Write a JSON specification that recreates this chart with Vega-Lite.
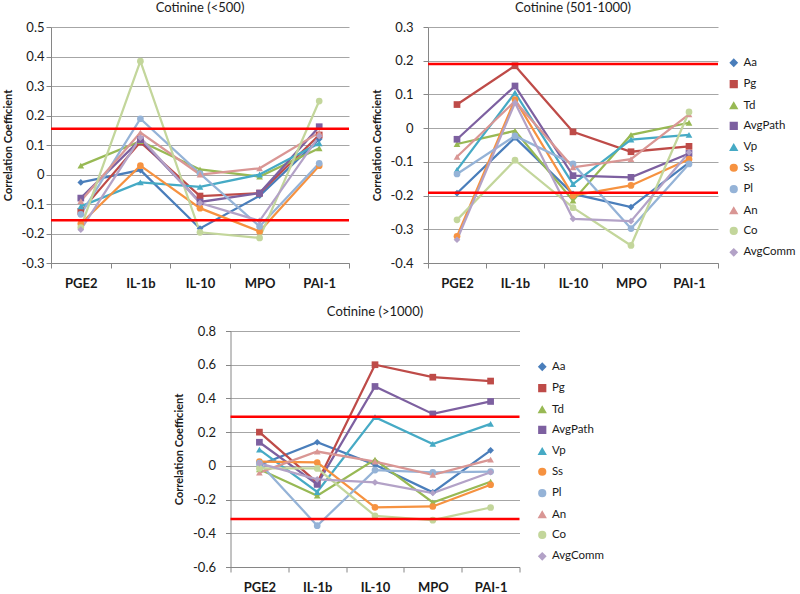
{
  "$schema": "https://vega.github.io/schema/vega-lite/v6.json",
  "padding": {"left": 2, "top": 2, "right": 0, "bottom": 0},
  "background": "white",
  "config": {
    "font": "Lato",
    "view": {"stroke": null},
    "axis": {"labelFont": "Lato", "titleFont": "Lato", "domainColor": "#868686", "tickColor": "#868686", "gridColor": "#A6A6A6", "labelColor": "#1a1a1a", "titleColor": "#1a1a1a"},
    "axisX": {"labelFontSize": 13, "labelFontWeight": "bold", "labelAngle": 0, "tickSize": 5, "labelPadding": 9, "grid": false, "tickBand": "extent"},
    "axisY": {"labelFontSize": 13, "titleFontSize": 11, "titleFontWeight": "bold", "tickSize": 5, "titlePadding": 8},
    "title": {"fontSize": 13, "fontWeight": "normal", "offset": 6, "color": "#1a1a1a", "font": "Lato"},
    "legend": {"labelFontSize": 11.5, "labelFont": "Lato", "labelColor": "#1a1a1a", "rowPadding": 7.4, "symbolSize": 45, "labelOffset": 4}
  },
  "datasets": {
    "p1": [
      {"s": "Aa", "m": "PGE2", "v": -0.027}, {"s": "Aa", "m": "IL-1b", "v": 0.015}, {"s": "Aa", "m": "IL-10", "v": -0.183}, {"s": "Aa", "m": "MPO", "v": -0.072}, {"s": "Aa", "m": "PAI-1", "v": 0.12},
      {"s": "Pg", "m": "PGE2", "v": -0.125}, {"s": "Pg", "m": "IL-1b", "v": 0.11}, {"s": "Pg", "m": "IL-10", "v": -0.073}, {"s": "Pg", "m": "MPO", "v": -0.063}, {"s": "Pg", "m": "PAI-1", "v": 0.134},
      {"s": "Td", "m": "PGE2", "v": 0.03}, {"s": "Td", "m": "IL-1b", "v": 0.113}, {"s": "Td", "m": "IL-10", "v": 0.017}, {"s": "Td", "m": "MPO", "v": -0.007}, {"s": "Td", "m": "PAI-1", "v": 0.089},
      {"s": "AvgPath", "m": "PGE2", "v": -0.08}, {"s": "AvgPath", "m": "IL-1b", "v": 0.118}, {"s": "AvgPath", "m": "IL-10", "v": -0.093}, {"s": "AvgPath", "m": "MPO", "v": -0.063}, {"s": "AvgPath", "m": "PAI-1", "v": 0.162},
      {"s": "Vp", "m": "PGE2", "v": -0.108}, {"s": "Vp", "m": "IL-1b", "v": -0.027}, {"s": "Vp", "m": "IL-10", "v": -0.042}, {"s": "Vp", "m": "MPO", "v": 0.0}, {"s": "Vp", "m": "PAI-1", "v": 0.106},
      {"s": "Ss", "m": "PGE2", "v": -0.167}, {"s": "Ss", "m": "IL-1b", "v": 0.03}, {"s": "Ss", "m": "IL-10", "v": -0.114}, {"s": "Ss", "m": "MPO", "v": -0.193}, {"s": "Ss", "m": "PAI-1", "v": 0.03},
      {"s": "Pl", "m": "PGE2", "v": -0.135}, {"s": "Pl", "m": "IL-1b", "v": 0.189}, {"s": "Pl", "m": "IL-10", "v": 0.003}, {"s": "Pl", "m": "MPO", "v": -0.176}, {"s": "Pl", "m": "PAI-1", "v": 0.038},
      {"s": "An", "m": "PGE2", "v": -0.09}, {"s": "An", "m": "IL-1b", "v": 0.142}, {"s": "An", "m": "IL-10", "v": 0.0}, {"s": "An", "m": "MPO", "v": 0.021}, {"s": "An", "m": "PAI-1", "v": 0.142},
      {"s": "Co", "m": "PGE2", "v": -0.18}, {"s": "Co", "m": "IL-1b", "v": 0.384}, {"s": "Co", "m": "IL-10", "v": -0.196}, {"s": "Co", "m": "MPO", "v": -0.215}, {"s": "Co", "m": "PAI-1", "v": 0.249},
      {"s": "AvgComm", "m": "PGE2", "v": -0.187}, {"s": "AvgComm", "m": "IL-1b", "v": 0.125}, {"s": "AvgComm", "m": "IL-10", "v": -0.097}, {"s": "AvgComm", "m": "MPO", "v": -0.157}, {"s": "AvgComm", "m": "PAI-1", "v": 0.13}
    ],
    "p2": [
      {"s": "Aa", "m": "PGE2", "v": -0.193}, {"s": "Aa", "m": "IL-1b", "v": -0.028}, {"s": "Aa", "m": "IL-10", "v": -0.195}, {"s": "Aa", "m": "MPO", "v": -0.234}, {"s": "Aa", "m": "PAI-1", "v": -0.102},
      {"s": "Pg", "m": "PGE2", "v": 0.07}, {"s": "Pg", "m": "IL-1b", "v": 0.185}, {"s": "Pg", "m": "IL-10", "v": -0.011}, {"s": "Pg", "m": "MPO", "v": -0.07}, {"s": "Pg", "m": "PAI-1", "v": -0.054},
      {"s": "Td", "m": "PGE2", "v": -0.047}, {"s": "Td", "m": "IL-1b", "v": -0.008}, {"s": "Td", "m": "IL-10", "v": -0.215}, {"s": "Td", "m": "MPO", "v": -0.02}, {"s": "Td", "m": "PAI-1", "v": 0.016},
      {"s": "AvgPath", "m": "PGE2", "v": -0.033}, {"s": "AvgPath", "m": "IL-1b", "v": 0.125}, {"s": "AvgPath", "m": "IL-10", "v": -0.141}, {"s": "AvgPath", "m": "MPO", "v": -0.146}, {"s": "AvgPath", "m": "PAI-1", "v": -0.075},
      {"s": "Vp", "m": "PGE2", "v": -0.124}, {"s": "Vp", "m": "IL-1b", "v": 0.105}, {"s": "Vp", "m": "IL-10", "v": -0.166}, {"s": "Vp", "m": "MPO", "v": -0.034}, {"s": "Vp", "m": "PAI-1", "v": -0.02},
      {"s": "Ss", "m": "PGE2", "v": -0.321}, {"s": "Ss", "m": "IL-1b", "v": 0.085}, {"s": "Ss", "m": "IL-10", "v": -0.2}, {"s": "Ss", "m": "MPO", "v": -0.17}, {"s": "Ss", "m": "PAI-1", "v": -0.092},
      {"s": "Pl", "m": "PGE2", "v": -0.136}, {"s": "Pl", "m": "IL-1b", "v": -0.023}, {"s": "Pl", "m": "IL-10", "v": -0.106}, {"s": "Pl", "m": "MPO", "v": -0.298}, {"s": "Pl", "m": "PAI-1", "v": -0.106},
      {"s": "An", "m": "PGE2", "v": -0.085}, {"s": "An", "m": "IL-1b", "v": 0.08}, {"s": "An", "m": "IL-10", "v": -0.116}, {"s": "An", "m": "MPO", "v": -0.092}, {"s": "An", "m": "PAI-1", "v": 0.041},
      {"s": "Co", "m": "PGE2", "v": -0.272}, {"s": "Co", "m": "IL-1b", "v": -0.095}, {"s": "Co", "m": "IL-10", "v": -0.236}, {"s": "Co", "m": "MPO", "v": -0.348}, {"s": "Co", "m": "PAI-1", "v": 0.048},
      {"s": "AvgComm", "m": "PGE2", "v": -0.331}, {"s": "AvgComm", "m": "IL-1b", "v": 0.075}, {"s": "AvgComm", "m": "IL-10", "v": -0.269}, {"s": "AvgComm", "m": "MPO", "v": -0.276}, {"s": "AvgComm", "m": "PAI-1", "v": -0.072}
    ],
    "p3": [
      {"s": "Aa", "m": "PGE2", "v": 0.005}, {"s": "Aa", "m": "IL-1b", "v": 0.14}, {"s": "Aa", "m": "IL-10", "v": 0.007}, {"s": "Aa", "m": "MPO", "v": -0.157}, {"s": "Aa", "m": "PAI-1", "v": 0.092},
      {"s": "Pg", "m": "PGE2", "v": 0.2}, {"s": "Pg", "m": "IL-1b", "v": -0.1}, {"s": "Pg", "m": "IL-10", "v": 0.6}, {"s": "Pg", "m": "MPO", "v": 0.526}, {"s": "Pg", "m": "PAI-1", "v": 0.503},
      {"s": "Td", "m": "PGE2", "v": -0.02}, {"s": "Td", "m": "IL-1b", "v": -0.177}, {"s": "Td", "m": "IL-10", "v": 0.037}, {"s": "Td", "m": "MPO", "v": -0.217}, {"s": "Td", "m": "PAI-1", "v": -0.094},
      {"s": "AvgPath", "m": "PGE2", "v": 0.14}, {"s": "AvgPath", "m": "IL-1b", "v": -0.11}, {"s": "AvgPath", "m": "IL-10", "v": 0.471}, {"s": "AvgPath", "m": "MPO", "v": 0.308}, {"s": "AvgPath", "m": "PAI-1", "v": 0.382},
      {"s": "Vp", "m": "PGE2", "v": 0.096}, {"s": "Vp", "m": "IL-1b", "v": -0.155}, {"s": "Vp", "m": "IL-10", "v": 0.289}, {"s": "Vp", "m": "MPO", "v": 0.13}, {"s": "Vp", "m": "PAI-1", "v": 0.249},
      {"s": "Ss", "m": "PGE2", "v": 0.025}, {"s": "Ss", "m": "IL-1b", "v": 0.02}, {"s": "Ss", "m": "IL-10", "v": -0.246}, {"s": "Ss", "m": "MPO", "v": -0.241}, {"s": "Ss", "m": "PAI-1", "v": -0.112},
      {"s": "Pl", "m": "PGE2", "v": 0.017}, {"s": "Pl", "m": "IL-1b", "v": -0.355}, {"s": "Pl", "m": "IL-10", "v": -0.025}, {"s": "Pl", "m": "MPO", "v": -0.039}, {"s": "Pl", "m": "PAI-1", "v": -0.034},
      {"s": "An", "m": "PGE2", "v": -0.04}, {"s": "An", "m": "IL-1b", "v": 0.085}, {"s": "An", "m": "IL-10", "v": 0.025}, {"s": "An", "m": "MPO", "v": -0.054}, {"s": "An", "m": "PAI-1", "v": 0.037},
      {"s": "Co", "m": "PGE2", "v": -0.015}, {"s": "Co", "m": "IL-1b", "v": -0.015}, {"s": "Co", "m": "IL-10", "v": -0.296}, {"s": "Co", "m": "MPO", "v": -0.322}, {"s": "Co", "m": "PAI-1", "v": -0.247},
      {"s": "AvgComm", "m": "PGE2", "v": 0.015}, {"s": "AvgComm", "m": "IL-1b", "v": -0.08}, {"s": "AvgComm", "m": "IL-10", "v": -0.098}, {"s": "AvgComm", "m": "MPO", "v": -0.161}, {"s": "AvgComm", "m": "PAI-1", "v": -0.038}
    ],
    "t1": [{"v": 0.155}, {"v": -0.155}],
    "t2": [{"v": 0.19}, {"v": -0.192}],
    "t3": [{"v": 0.292}, {"v": -0.315}]
  },
  "resolve": {"scale": {"x": "independent", "y": "independent", "color": "independent", "shape": "independent"}, "legend": {"color": "independent", "shape": "independent"}},
  "center": true,
  "spacing": 16,
  "vconcat": [
    {
      "spacing": 20,
      "resolve": {"scale": {"x": "independent", "y": "independent", "color": "independent", "shape": "independent"}, "legend": {"color": "independent", "shape": "independent"}},
      "hconcat": [
        {
          "width": 298, "height": 236,
          "title": {"text": "Cotinine (<500)"},
          "layer": [
            {
              "data": {"name": "p1"},
              "mark": {"type": "line", "strokeWidth": 2.25},
              "encoding": {
                "x": {"field": "m", "type": "nominal", "title": null, "sort": ["PGE2", "IL-1b", "IL-10", "MPO", "PAI-1"], "scale": {"type": "band", "paddingInner": 0, "paddingOuter": 0}},
                "y": {"field": "v", "type": "quantitative", "scale": {"domain": [-0.3, 0.5], "nice": false, "zero": false}, "axis": {"values": [-0.3, -0.2, -0.1, 0, 0.1, 0.2, 0.3, 0.4, 0.5], "tickCount": 30, "labelOverlap": false, "labelExpr": "toString(round(datum.value*10)/10)", "title": "Correlation Coefficient", "labelPadding": 2}},
                "color": {"field": "s", "type": "nominal", "legend": null, "scale": {"domain": ["Aa", "Pg", "Td", "AvgPath", "Vp", "Ss", "Pl", "An", "Co", "AvgComm"], "range": ["#4A7EBB", "#BE4B48", "#98B954", "#7D60A0", "#46AAC5", "#F69240", "#95B3D7", "#D99694", "#C3D69B", "#B3A2C7"]}}
              }
            },
            {
              "data": {"name": "p1"},
              "mark": {"type": "point", "filled": true, "opacity": 1, "size": 45},
              "encoding": {
                "x": {"field": "m", "type": "nominal", "sort": ["PGE2", "IL-1b", "IL-10", "MPO", "PAI-1"]},
                "y": {"field": "v", "type": "quantitative"},
                "color": {"field": "s", "type": "nominal", "legend": null, "scale": {"domain": ["Aa", "Pg", "Td", "AvgPath", "Vp", "Ss", "Pl", "An", "Co", "AvgComm"], "range": ["#4A7EBB", "#BE4B48", "#98B954", "#7D60A0", "#46AAC5", "#F69240", "#95B3D7", "#D99694", "#C3D69B", "#B3A2C7"]}},
                "shape": {"field": "s", "type": "nominal", "legend": null, "scale": {"domain": ["Aa", "Pg", "Td", "AvgPath", "Vp", "Ss", "Pl", "An", "Co", "AvgComm"], "range": ["diamond", "square", "triangle-up", "square", "triangle-up", "circle", "circle", "triangle-up", "circle", "diamond"]}}
              }
            },
            {
              "data": {"name": "t1"},
              "mark": {"type": "rule", "color": "#FF0000", "strokeWidth": 2.5},
              "encoding": {"y": {"field": "v", "type": "quantitative"}}
            }
          ]
        },
        {
          "width": 290, "height": 236,
          "title": {"text": "Cotinine (501-1000)"},
          "layer": [
            {
              "data": {"name": "p2"},
              "mark": {"type": "line", "strokeWidth": 2.25},
              "encoding": {
                "x": {"field": "m", "type": "nominal", "title": null, "sort": ["PGE2", "IL-1b", "IL-10", "MPO", "PAI-1"], "scale": {"type": "band", "paddingInner": 0, "paddingOuter": 0}},
                "y": {"field": "v", "type": "quantitative", "scale": {"domain": [-0.4, 0.3], "nice": false, "zero": false}, "axis": {"values": [-0.4, -0.3, -0.2, -0.1, 0, 0.1, 0.2, 0.3], "tickCount": 30, "labelOverlap": false, "labelExpr": "toString(round(datum.value*10)/10)", "title": "Correlation Coefficient", "labelPadding": 10}},
                "color": {"field": "s", "type": "nominal", "legend": {"title": null, "orient": "none", "legendX": 300, "legendY": 30}, "scale": {"domain": ["Aa", "Pg", "Td", "AvgPath", "Vp", "Ss", "Pl", "An", "Co", "AvgComm"], "range": ["#4A7EBB", "#BE4B48", "#98B954", "#7D60A0", "#46AAC5", "#F69240", "#95B3D7", "#D99694", "#C3D69B", "#B3A2C7"]}}
              }
            },
            {
              "data": {"name": "p2"},
              "mark": {"type": "point", "filled": true, "opacity": 1, "size": 45},
              "encoding": {
                "x": {"field": "m", "type": "nominal", "sort": ["PGE2", "IL-1b", "IL-10", "MPO", "PAI-1"]},
                "y": {"field": "v", "type": "quantitative"},
                "color": {"field": "s", "type": "nominal", "legend": {"title": null, "orient": "none", "legendX": 300, "legendY": 30}, "scale": {"domain": ["Aa", "Pg", "Td", "AvgPath", "Vp", "Ss", "Pl", "An", "Co", "AvgComm"], "range": ["#4A7EBB", "#BE4B48", "#98B954", "#7D60A0", "#46AAC5", "#F69240", "#95B3D7", "#D99694", "#C3D69B", "#B3A2C7"]}},
                "shape": {"field": "s", "type": "nominal", "legend": {"title": null, "orient": "none", "legendX": 300, "legendY": 30}, "scale": {"domain": ["Aa", "Pg", "Td", "AvgPath", "Vp", "Ss", "Pl", "An", "Co", "AvgComm"], "range": ["diamond", "square", "triangle-up", "square", "triangle-up", "circle", "circle", "triangle-up", "circle", "diamond"]}}
              }
            },
            {
              "data": {"name": "t2"},
              "mark": {"type": "rule", "color": "#FF0000", "strokeWidth": 2.5},
              "encoding": {"y": {"field": "v", "type": "quantitative"}}
            }
          ]
        }
      ]
    },
    {
      "width": 289, "height": 236,
      "title": {"text": "Cotinine (>1000)"},
      "layer": [
        {
          "data": {"name": "p3"},
          "mark": {"type": "line", "strokeWidth": 2.25},
          "encoding": {
            "x": {"field": "m", "type": "nominal", "title": null, "sort": ["PGE2", "IL-1b", "IL-10", "MPO", "PAI-1"], "scale": {"type": "band", "paddingInner": 0, "paddingOuter": 0}},
            "y": {"field": "v", "type": "quantitative", "scale": {"domain": [-0.6, 0.8], "nice": false, "zero": false}, "axis": {"values": [-0.6, -0.4, -0.2, 0, 0.2, 0.4, 0.6, 0.8], "tickCount": 30, "labelOverlap": false, "labelExpr": "toString(round(datum.value*10)/10)", "title": "Correlation Coefficient", "labelPadding": 10}},
            "color": {"field": "s", "type": "nominal", "legend": {"title": null, "orient": "none", "legendX": 294, "legendY": 18, "padding": 12}, "scale": {"domain": ["Aa", "Pg", "Td", "AvgPath", "Vp", "Ss", "Pl", "An", "Co", "AvgComm"], "range": ["#4A7EBB", "#BE4B48", "#98B954", "#7D60A0", "#46AAC5", "#F69240", "#95B3D7", "#D99694", "#C3D69B", "#B3A2C7"]}}
          }
        },
        {
          "data": {"name": "p3"},
          "mark": {"type": "point", "filled": true, "opacity": 1, "size": 45},
          "encoding": {
            "x": {"field": "m", "type": "nominal", "sort": ["PGE2", "IL-1b", "IL-10", "MPO", "PAI-1"]},
            "y": {"field": "v", "type": "quantitative"},
            "color": {"field": "s", "type": "nominal", "legend": {"title": null, "orient": "none", "legendX": 294, "legendY": 18, "padding": 12}, "scale": {"domain": ["Aa", "Pg", "Td", "AvgPath", "Vp", "Ss", "Pl", "An", "Co", "AvgComm"], "range": ["#4A7EBB", "#BE4B48", "#98B954", "#7D60A0", "#46AAC5", "#F69240", "#95B3D7", "#D99694", "#C3D69B", "#B3A2C7"]}},
            "shape": {"field": "s", "type": "nominal", "legend": {"title": null, "orient": "none", "legendX": 294, "legendY": 18, "padding": 12}, "scale": {"domain": ["Aa", "Pg", "Td", "AvgPath", "Vp", "Ss", "Pl", "An", "Co", "AvgComm"], "range": ["diamond", "square", "triangle-up", "square", "triangle-up", "circle", "circle", "triangle-up", "circle", "diamond"]}}
          }
        },
        {
          "data": {"name": "t3"},
          "mark": {"type": "rule", "color": "#FF0000", "strokeWidth": 2.5},
          "encoding": {"y": {"field": "v", "type": "quantitative"}}
        }
      ]
    }
  ]
}
